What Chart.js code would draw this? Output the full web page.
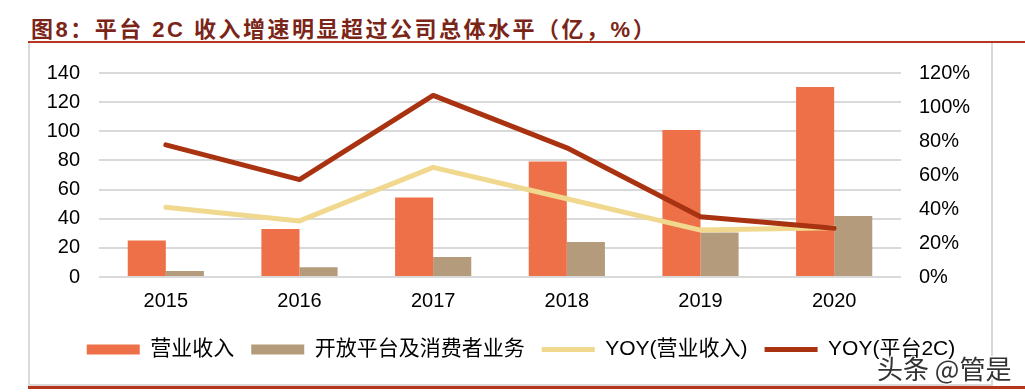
<!DOCTYPE html>
<html>
<head>
<meta charset="utf-8">
<script src="https://cdn.jsdelivr.net/npm/chart.js@4.4.1/dist/chart.umd.min.js"></script>
<style>
  html, body { margin: 0; padding: 0; background: #fff; }
  body { width: 1025px; height: 392px; position: relative; overflow: hidden; }
  #title {
    position: absolute; left: 31px; top: 11px;
    font: bold 22px "Liberation Sans", "Noto Sans CJK SC", sans-serif;
    letter-spacing: 2.5px; color: #7a2518; white-space: nowrap;
  }
  #topLine { position: absolute; left: 28px; top: 41px; width: 997px; height: 2px; background: #b5361c; }
  #frame { position: absolute; left: 28px; top: 43px; width: 961px; height: 341px; border: 2px solid #d9d9d9; border-top: none; }
  #bottomLine { position: absolute; left: 28px; top: 386px; width: 997px; height: 3px; background: #b5361c; }
  #mark {
    position: absolute; left: 877px; top: 349px;
    font: 26px "Noto Sans CJK SC", sans-serif; color: #333; white-space: nowrap;
    text-shadow: 1px 1px 0 #fff, -1px -1px 0 #fff, 1px -1px 0 #fff, -1px 1px 0 #fff;
  }
  #wrap { position: absolute; left: 0; top: 0; width: 1025px; height: 392px; }
</style>
</head>
<body>
<div id="title">图8：平台 2C 收入增速明显超过公司总体水平（亿，%）</div>
<div id="topLine"></div>
<div id="frame"></div>
<div id="bottomLine"></div>
<div id="wrap"><canvas id="chart" width="1025" height="392"></canvas></div>
<div id="mark">头条 @管是</div>
<script>
// 数据
const years = ['2015', '2016', '2017', '2018', '2019', '2020'];
const revenue = [25, 33, 54.6, 79.2, 100.8, 130.4];        // 营业收入（亿）
const platformRevenue = [4.1, 6.7, 13.8, 24, 30.5, 41.8];  // 开放平台及消费者业务（亿）
const yoyRevenue = [41, 33, 64.5, 46, 27.6, 29];            // YOY(营业收入) %
const yoyPlatform = [77.7, 57.3, 106.8, 76, 35.4, 28.7];    // YOY(平台2C) %

const font = { family: '"Liberation Sans", "Noto Sans CJK SC", sans-serif', size: 20 };
Chart.defaults.color = '#000';
Chart.defaults.font = font;

const chartLeft = 99, chartRight = 901;
const padLeft = 40, padRight = 23;

new Chart(document.getElementById('chart'), {
  type: 'bar',
  data: {
    labels: years,
    datasets: [
      { label: '营业收入', data: revenue, backgroundColor: '#ee7049', yAxisID: 'y',
        order: 2, pointStyle: 'rect', categoryPercentage: 0.57, barPercentage: 1 },
      { label: '开放平台及消费者业务', data: platformRevenue, backgroundColor: '#b39b7b', yAxisID: 'y',
        order: 2, pointStyle: 'rect', categoryPercentage: 0.57, barPercentage: 1 },
      { type: 'line', label: 'YOY(营业收入)', data: yoyRevenue, borderColor: '#f0d98e', backgroundColor: '#f0d98e',
        borderWidth: 5, pointRadius: 0, borderCapStyle: 'round', borderJoinStyle: 'round',
        yAxisID: 'y1', order: 1, pointStyle: 'line' },
      { type: 'line', label: 'YOY(平台2C)', data: yoyPlatform, borderColor: '#a93211', backgroundColor: '#a93211',
        borderWidth: 5, pointRadius: 0, borderCapStyle: 'round', borderJoinStyle: 'round',
        yAxisID: 'y1', order: 0, pointStyle: 'line' }
    ]
  },
  options: {
    responsive: false,
    animation: false,
    layout: { padding: { top: 73, left: padLeft, right: padRight, bottom: 22 } },
    plugins: {
      tooltip: { enabled: false },
      legend: {
        position: 'bottom',
        labels: {
          usePointStyle: true,
          pointStyleWidth: 53,
          boxHeight: 10,
          padding: 17,
          font: { family: font.family, size: 21 },
          sort: (a, b) => a.datasetIndex - b.datasetIndex
        }
      }
    },
    scales: {
      x: {
        grid: { display: false },
        border: { display: false },
        ticks: { padding: 4 },
        afterFit: (s) => { s.height += 5; }
      },
      y: {
        position: 'left',
        min: 0, max: 140,
        ticks: { stepSize: 20, padding: 19 },
        grid: { color: '#d9d9d9', lineWidth: 2, drawTicks: false },
        border: { display: false },
        afterFit: (s) => { s.width = chartLeft - padLeft; }
      },
      y1: {
        position: 'right',
        min: 0, max: 120,
        ticks: { stepSize: 20, padding: 18, callback: (v) => v + '%' },
        grid: { display: false, drawTicks: false },
        border: { display: false },
        afterFit: (s) => { s.width = 1025 - padRight - chartRight; }
      }
    }
  }
});
</script>
</body>
</html>
